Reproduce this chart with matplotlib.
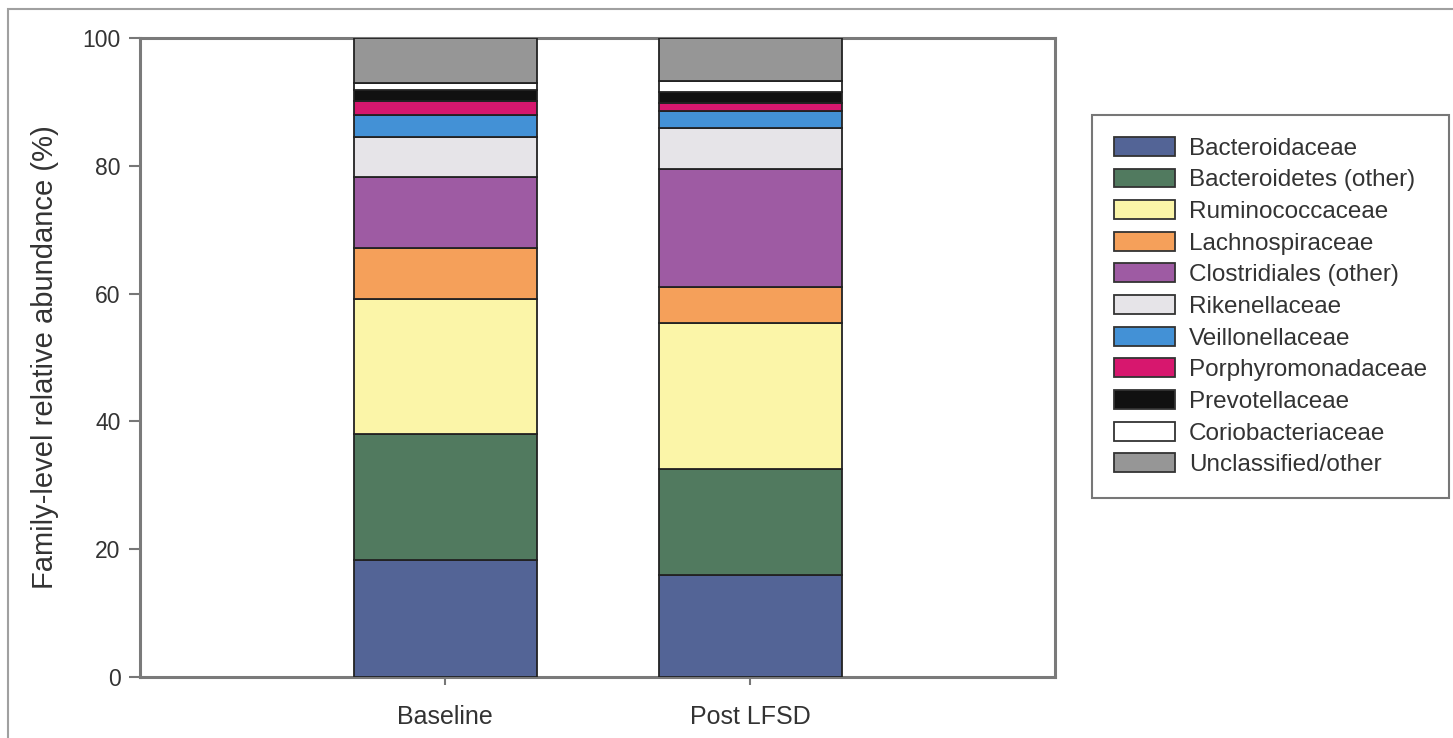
import matplotlib
matplotlib.use("Agg")
import matplotlib.pyplot as plt
from matplotlib.patches import Rectangle, Patch
import numpy as np

plt.rcParams['font.family'] = ['Liberation Sans', 'DejaVu Sans']

groups = ["Baseline", "Post LFSD"]
families = ["Bacteroidaceae", "Bacteroidetes (other)", "Ruminococcaceae",
            "Lachnospiraceae", "Clostridiales (other)", "Rikenellaceae",
            "Veillonellaceae", "Porphyromonadaceae", "Prevotellaceae",
            "Coriobacteriaceae", "Unclassified/other"]
baseline = [18.3, 19.7, 21.2, 7.9, 11.1, 6.3, 3.5, 2.1, 1.8, 1.1, 7.0]
post_lfsd = [16.0, 16.5, 22.9, 5.7, 18.4, 6.4, 2.7, 1.3, 1.7, 1.6, 6.8]
colors = ["#536496", "#517a5f", "#fbf5a8", "#f5a05a", "#9e5ba3", "#e6e4e8",
          "#4391d6", "#d7176e", "#111111", "#ffffff", "#969696"]

W, H = 1453, 738
fig = plt.figure(figsize=(W / 100, H / 100), dpi=100)
ax = fig.add_axes([140 / W, 1 - 677 / H, (1055 - 140) / W, (677 - 38) / H])

x = np.arange(len(groups))
bottoms = np.zeros(len(groups))
vals = np.array([baseline, post_lfsd])
for i, fam in enumerate(families):
    v = vals[:, i]
    ax.bar(x, v, width=0.6, bottom=bottoms, color=colors[i],
           edgecolor="#222222", linewidth=1.3, label=fam, zorder=3)
    bottoms += v

ax.set_xlim(-1, 2)
ax.set_ylim(0, 100)
ax.set_xticks(x)
ax.set_xticklabels(groups, fontsize=18, color="#333333")
ax.set_yticks([0, 20, 40, 60, 80, 100])
ax.tick_params(axis='y', labelsize=16.5, colors="#777777", labelcolor="#333333",
               length=8, width=1.5, direction='out', pad=6)
ax.tick_params(axis='x', colors="#777777", labelcolor="#333333",
               length=6, width=1.5, direction='out', pad=14)
for s in ax.spines.values():
    s.set_color("#7a7a7a")
    s.set_linewidth(2.2)
ax.set_ylabel("Family-level relative abundance (%)", fontsize=21,
              color="#333333", labelpad=17)

handles = [Patch(facecolor=c, edgecolor="#333333", linewidth=1.3) for c in colors]
leg = fig.legend(handles, families, loc="upper left",
                 bbox_to_anchor=(1092 / W, 1 - 115 / H),
                 fontsize=17.5, frameon=True, fancybox=False,
                 handlelength=2.5, handleheight=0.82, handletextpad=0.6,
                 labelspacing=0.36, borderpad=0.9, borderaxespad=0)
leg.get_frame().set_edgecolor("#555555")
leg.get_frame().set_linewidth(1.5)
for t in leg.get_texts():
    t.set_color("#333333")

fig.patches.append(Rectangle((8 / W, -0.5), 2, 0.5 + 1 - 9 / H,
                             transform=fig.transFigure, fill=False,
                             edgecolor="#a0a0a0", linewidth=1.5))

fig.savefig("out.png", dpi=100)
